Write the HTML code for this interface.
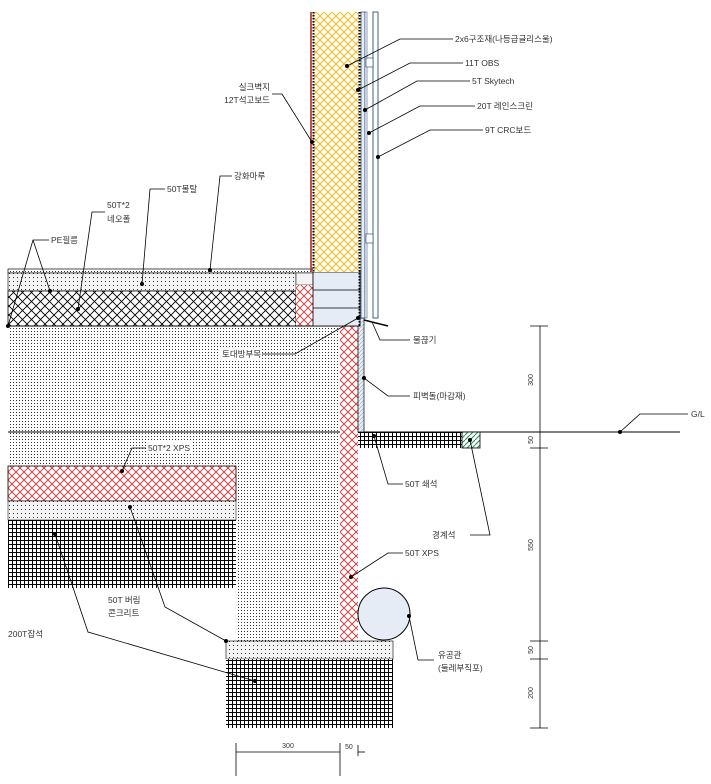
<!DOCTYPE html>
<html><head><meta charset="utf-8"><style>
html,body{margin:0;padding:0;background:#fff;width:711px;height:784px;overflow:hidden}
svg text{font-family:"Liberation Sans","Noto Sans CJK KR",sans-serif;font-size:8.5px;fill:#333}
</style></head><body>
<svg width="711" height="784" viewBox="0 0 711 784" xmlns="http://www.w3.org/2000/svg">
<defs>
<pattern id="dot" width="3" height="3" patternUnits="userSpaceOnUse"><rect width="3" height="3" fill="#fff"/><rect x="1" y="1" width="1" height="1" fill="#333"/></pattern>
<pattern id="ldot" width="4" height="4" patternUnits="userSpaceOnUse"><rect width="4" height="4" fill="#f4f4f4"/><rect x="1" y="1" width="1" height="1" fill="#333"/></pattern>
<pattern id="grid" width="4" height="4" patternUnits="userSpaceOnUse"><rect width="4" height="4" fill="#fff"/><path d="M0 0.5H4M0.5 0V4" stroke="#000" stroke-width="1"/></pattern>
<pattern id="xb" width="9" height="9" patternUnits="userSpaceOnUse"><rect width="9" height="9" fill="#fff"/><path d="M0 0L9 9M9 0L0 9" stroke="#000" stroke-width="0.9"/></pattern>
<pattern id="xr" width="8" height="8" patternUnits="userSpaceOnUse"><rect width="8" height="8" fill="#fff"/><path d="M0 0L8 8M8 0L0 8" stroke="#d22" stroke-width="0.8"/></pattern>
<pattern id="xy" width="8" height="8" patternUnits="userSpaceOnUse"><rect width="8" height="8" fill="#fffbe8"/><path d="M0 0L8 8M8 0L0 8" stroke="#e8b020" stroke-width="0.8"/></pattern>
<pattern id="hb" width="4" height="4" patternUnits="userSpaceOnUse"><rect width="4" height="4" fill="#e8eef8"/><path d="M0 4L4 0" stroke="#9ab" stroke-width="0.6"/></pattern>
<pattern id="hg" width="5" height="5" patternUnits="userSpaceOnUse"><rect width="5" height="5" fill="#fff"/><path d="M0 5L5 0" stroke="#1a8a50" stroke-width="1"/></pattern>
</defs>

<rect x="8" y="326" width="332" height="140" fill="url(#dot)"/>
<rect x="236" y="326" width="104" height="315" fill="url(#dot)"/>
<line x1="8" y1="432" x2="680" y2="432" stroke="#000" stroke-width="1"/>
<rect x="8" y="466" width="228" height="35" fill="url(#xr)" stroke="#000" stroke-width="0.8"/>
<rect x="8" y="501" width="228" height="19" fill="url(#ldot)" stroke="#000" stroke-width="0.5"/>
<rect x="8" y="520" width="228" height="68" fill="url(#grid)"/>
<rect x="340" y="326" width="18" height="315" fill="url(#xr)"/>
<rect x="226" y="641" width="167" height="18" fill="url(#ldot)" stroke="#000" stroke-width="0.6"/>
<rect x="226" y="659" width="167" height="69" fill="url(#grid)"/>
<circle cx="384" cy="614" r="26" fill="#e6ecf6" stroke="#000" stroke-width="1"/>
<rect x="358" y="318" width="6" height="114" fill="url(#hb)" stroke="#000" stroke-width="0.7"/>
<rect x="358" y="432" width="104" height="16" fill="url(#grid)"/>
<rect x="462" y="432" width="18" height="16" fill="url(#hg)" stroke="#000" stroke-width="0.8"/>

<rect x="8" y="269" width="305" height="4" fill="url(#dot)" stroke="#000" stroke-width="0.7"/>
<rect x="8" y="273" width="288" height="18" fill="url(#ldot)" stroke="#000" stroke-width="0.6"/>
<rect x="296" y="273" width="17" height="12" fill="#f4f4f4" stroke="#000" stroke-width="0.5"/>
<rect x="8" y="291" width="288" height="35" fill="url(#xb)" stroke="#000" stroke-width="0.8"/>
<rect x="296" y="285" width="17" height="41" fill="url(#xr)"/>
<line x1="8" y1="326" x2="360" y2="326" stroke="#000" stroke-width="1"/>
<rect x="313" y="272" width="47" height="54" fill="#e6ecf6" stroke="#000" stroke-width="0.8"/>
<line x1="313" y1="290" x2="360" y2="290" stroke="#000" stroke-width="0.8"/>
<line x1="313" y1="308" x2="360" y2="308" stroke="#000" stroke-width="0.8"/>

<rect x="313" y="12" width="46" height="260" fill="url(#xy)"/>
<line x1="311" y1="12" x2="311" y2="272" stroke="#b01818" stroke-width="1.5"/>
<line x1="313.5" y1="12" x2="313.5" y2="272" stroke="#000" stroke-width="2" stroke-dasharray="1.5 1.5"/>
<line x1="359.5" y1="12" x2="359.5" y2="326" stroke="#000" stroke-width="2" stroke-dasharray="1.5 1.5"/>
<rect x="361" y="12" width="4" height="306" fill="#e8eef8" stroke="#1a3a6a" stroke-width="0.7"/>
<rect x="365" y="12" width="2" height="306" fill="#fff" stroke="#1a3a6a" stroke-width="0.5"/>
<rect x="373" y="12" width="5" height="306" fill="#fff" stroke="#1a3a6a" stroke-width="0.8"/>
<rect x="366" y="58" width="7" height="9" fill="#fff" stroke="#1a3a6a" stroke-width="0.6"/>
<rect x="366" y="234" width="7" height="9" fill="#fff" stroke="#1a3a6a" stroke-width="0.6"/>
<line x1="364" y1="320" x2="388" y2="326" stroke="#000" stroke-width="1.5"/>

<!-- label backgrounds -->
<rect x="220" y="348" width="42" height="11" fill="#fff"/>
<rect x="146" y="442" width="46" height="11" fill="#fff"/>

<g stroke="#000" stroke-width="0.8" fill="none">
<polyline points="347,66 400,39 453,39"/>
<polyline points="358,90 410,63 463,63"/>
<polyline points="365,110 417,81 470,81"/>
<polyline points="369,133 420,106 475,106"/>
<polyline points="378,157 430,130 483,130"/>
<polyline points="312,142 282,94 272,94"/>
<polyline points="210,270 220,176 232,176"/>
<polyline points="142,284 150,189 165,189"/>
<polyline points="78,309 92,212 105,212"/>
<polyline points="8,326 33,240 49,240"/>
<polyline points="33,240 50,291"/>
<polyline points="262,354 295,354 358,318"/>
<polyline points="372,322 380,340 410,340"/>
<polyline points="364,378 388,396 410,396"/>
<polyline points="620,432 640,414 688,414"/>
<polyline points="374,436 388,484 403,484"/>
<polyline points="470,440 490,535 470,535"/>
<polyline points="122,471 132,448 146,448"/>
<polyline points="351,577 388,553 403,553"/>
<polyline points="130,507 165,607 226,641"/>
<polyline points="55,534 88,632 255,681"/>
<polyline points="409,616 418,660 434,660"/>
</g>
<g fill="#000">
<circle cx="347" cy="66" r="2"/><circle cx="358" cy="90" r="2"/><circle cx="365" cy="110" r="2"/><circle cx="369" cy="133" r="2"/><circle cx="378" cy="157" r="2"/><circle cx="312" cy="142" r="2"/><circle cx="210" cy="270" r="2"/><circle cx="142" cy="284" r="2"/><circle cx="78" cy="309" r="2"/><circle cx="8" cy="326" r="2"/><circle cx="50" cy="291" r="2"/><circle cx="358" cy="318" r="2"/><circle cx="364" cy="378" r="2"/><circle cx="620" cy="432" r="2"/><circle cx="374" cy="436" r="2"/><circle cx="470" cy="440" r="2"/><circle cx="122" cy="471" r="2"/><circle cx="351" cy="577" r="2"/><circle cx="130" cy="507" r="2"/><circle cx="226" cy="641" r="2"/><circle cx="55" cy="534" r="2"/><circle cx="255" cy="681" r="2"/><circle cx="409" cy="616" r="2"/>
</g>

<text x="455" y="42">2x6구조재(나등급글리스울)</text>
<text x="465" y="66">11T OBS</text>
<text x="472" y="84">5T Skytech</text>
<text x="477" y="109">20T 레인스크린</text>
<text x="485" y="133">9T CRC보드</text>
<text x="270" y="90" text-anchor="end">실크벽지</text>
<text x="270" y="103" text-anchor="end">12T석고보드</text>
<text x="234" y="179">강화마루</text>
<text x="167" y="192">50T몰탈</text>
<text x="107" y="208">50T*2</text>
<text x="107" y="222">네오폴</text>
<text x="51" y="243">PE필름</text>
<text x="222" y="357">토대방부목</text>
<text x="413" y="343">물끊기</text>
<text x="413" y="399">피벽돌(마감재)</text>
<text x="691" y="417">G/L</text>
<text x="405" y="487">50T 쇄석</text>
<text x="432" y="538">경계석</text>
<text x="148" y="451">50T*2 XPS</text>
<text x="405" y="556">50T XPS</text>
<text x="108" y="603">50T 버림</text>
<text x="108" y="616">콘크리트</text>
<text x="8" y="637">200T잡석</text>
<text x="438" y="658">유공관</text>
<text x="438" y="671">(둘레부직포)</text>

<g stroke="#000" stroke-width="0.8">
<line x1="540" y1="326" x2="540" y2="728"/>
<line x1="530" y1="326" x2="548" y2="326"/>
<line x1="530" y1="448" x2="548" y2="448"/>
<line x1="530" y1="641" x2="548" y2="641"/>
<line x1="530" y1="659" x2="548" y2="659"/>
<line x1="530" y1="728" x2="548" y2="728"/>
<line x1="236" y1="743" x2="236" y2="776"/>
<line x1="340" y1="743" x2="340" y2="776"/>
<line x1="236" y1="752" x2="340" y2="752"/>
<line x1="358" y1="745" x2="358" y2="756"/>
<line x1="358" y1="752" x2="365" y2="752"/>
</g>
<text transform="translate(533,380) rotate(-90)" text-anchor="middle" style="font-size:7px">300</text>
<text transform="translate(533,440) rotate(-90)" text-anchor="middle" style="font-size:7px">50</text>
<text transform="translate(533,545) rotate(-90)" text-anchor="middle" style="font-size:7px">550</text>
<text transform="translate(533,650) rotate(-90)" text-anchor="middle" style="font-size:7px">50</text>
<text transform="translate(533,693) rotate(-90)" text-anchor="middle" style="font-size:7px">200</text>
<text x="288" y="748" text-anchor="middle" style="font-size:7px">300</text>
<text x="345" y="749" style="font-size:7px">50</text>
</svg>
</body></html>
